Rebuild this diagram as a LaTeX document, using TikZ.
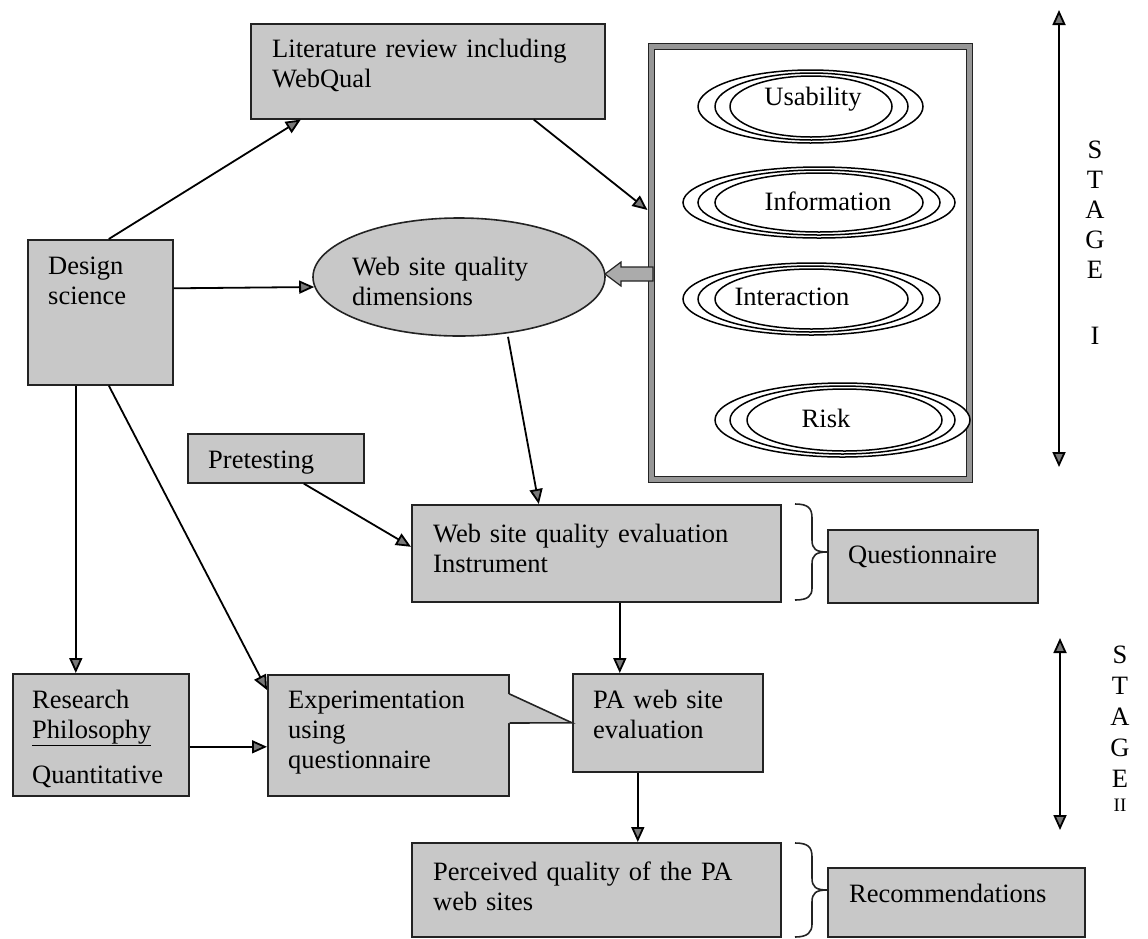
\documentclass[tikz,border=0pt]{standalone}
\usepackage{fontspec}
\setmainfont{Liberation Serif}
\usetikzlibrary{arrows.meta,calc,shapes.geometric}
\definecolor{boxfill}{RGB}{200,200,200}
\definecolor{tipfill}{RGB}{120,120,120}
\definecolor{edge}{RGB}{35,35,35}
\definecolor{bandfill}{RGB}{150,150,150}
\tikzset{
  box/.style={draw=edge, line width=1.6pt, fill=boxfill, inner sep=0pt, anchor=north west},
  lbl/.style={anchor=base west, inner sep=0pt, align=left, text width=380pt,
    font=\fontsize{26.5}{30}\selectfont},
  clabel/.style={anchor=base, inner sep=0pt, font=\fontsize{26.5}{30}\selectfont},
  stagelbl/.style={anchor=base, inner sep=0pt, align=center, text width=30pt,
    font=\fontsize{26.5}{31}\selectfont},
  link/.style={line width=1.8pt, draw=black, -{Triangle[length=15pt,width=13pt,fill=tipfill]}},
  twoway/.style={line width=1.8pt, draw=black,
    {Triangle[length=15pt,width=13pt,fill=tipfill]}-{Triangle[length=15pt,width=13pt,fill=tipfill]}},
  oval/.style={draw=black, line width=1.5pt, fill=white},
  bracket/.style={line width=1.6pt, draw=edge},
}
\begin{document}
\begin{tikzpicture}[x=1pt, y=-1pt]
\useasboundingbox (0,0) rectangle (1148,938);

% ---- boxes ----
\node[box, minimum width=354pt, minimum height=95pt] (lit) at (250,23) {};
\node[box, minimum width=145pt, minimum height=145pt] (design) at (27,239) {};
\node[box, minimum width=176pt, minimum height=49pt] (pre) at (187,433) {};
\node[box, minimum width=369pt, minimum height=97pt] (wsqe) at (411,504) {};
\node[box, minimum width=210pt, minimum height=73pt] (quest) at (827,529) {};
\node[box, minimum width=176pt, minimum height=122pt] (research) at (12,673) {};
\node[box, minimum width=241pt, minimum height=121pt] (exp) at (267,674) {};
\node[box, minimum width=190pt, minimum height=98pt] (pa) at (572,673) {};
\node[box, minimum width=369pt, minimum height=94pt] (perc) at (411,842) {};
\node[box, minimum width=257pt, minimum height=69pt] (recom) at (827,867) {};

% quality dimensions ellipse
\node[draw=edge, line width=1.6pt, fill=boxfill, ellipse, inner sep=0pt,
      minimum width=292pt, minimum height=118pt] (dims) at (459,277) {};

% framed panel with the four dimensions
\node[draw=edge, line width=1.1pt, double=bandfill, double distance=4.5pt, fill=white,
      inner sep=0pt, minimum width=318pt, minimum height=433pt] (dimbox) at (810.5,263) {};

% triple ovals
\draw[oval] (810.5,106.5) ellipse [x radius=112.5pt, y radius=36.5pt];
\draw[oval] (811.5,106.5) ellipse [x radius=96.5pt, y radius=33.5pt];
\draw[oval] (811,106.5) ellipse [x radius=81pt, y radius=30.5pt];

\draw[oval] (819,202.5) ellipse [x radius=136pt, y radius=35.5pt];
\draw[oval] (819,202.5) ellipse [x radius=121pt, y radius=32.5pt];
\draw[oval] (819,202.5) ellipse [x radius=104pt, y radius=29.5pt];

\draw[oval] (811.5,299) ellipse [x radius=128.5pt, y radius=36pt];
\draw[oval] (810.5,299) ellipse [x radius=112.5pt, y radius=33pt];
\draw[oval] (811.5,299) ellipse [x radius=96.5pt, y radius=30pt];

\draw[oval] (842.5,420) ellipse [x radius=127.5pt, y radius=37pt];
\draw[oval] (842.5,420) ellipse [x radius=112.5pt, y radius=34pt];
\draw[oval] (844.5,420) ellipse [x radius=97.5pt, y radius=31pt];

\node[clabel] (usab) at (813,105) {Usability};
\node[clabel] (info) at (828,210) {Information};
\node[clabel] (inter) at (792,305) {Interaction};
\node[clabel] (risk) at (826,427) {Risk};

% callout pointer of the experimentation box
\fill[boxfill] ($(exp.north east)+(-1.6,20)$) -- (pa.west) -- ($(exp.north east)+(-1.6,49)$) -- cycle;
\draw[line width=1.6pt, draw=edge, line join=miter]
  ($(exp.north east)+(0,20)$) -- (pa.west) -- ($(exp.north east)+(0,49)$);

% block arrow from the panel to the ellipse
\draw[draw=edge, line width=1.2pt, fill=bandfill!80!white, line join=miter]
  (605,274) -- (621,262) -- (621,267) -- (653,267) -- (653,281) -- (621,281) -- (621,286) -- cycle;

% ---- texts ----
\node[lbl] (lit-t) at (272,57) {Literature review including\\WebQual};
\node[lbl] (design-t) at (48,274) {Design\\science};
\node[lbl] (dims-t) at (352,275) {Web site quality\\dimensions};
\node[lbl] (pre-t) at (208,468) {Pretesting};
\node[lbl] (wsqe-t) at (433,542) {Web site quality evaluation\\Instrument};
\node[lbl] (quest-t) at (848,563) {Questionnaire};
\node[lbl] (research-t) at (32,708) {Research\\\underline{Philosophy}\\[15pt]Quantitative};
\node[lbl] (exp-t) at (288,708) {Experimentation\\using\\questionnaire};
\node[lbl] (pa-t) at (593,708) {PA web site\\evaluation};
\node[lbl] (perc-t) at (433,880) {Perceived quality of the PA\\web sites};
\node[lbl] (recom-t) at (849,902) {Recommendations};

% ---- connectors ----
\draw[link] ([xshift=8.5pt]design.north) -- ([xshift=-127pt]lit.south);
\draw[link] ([xshift=106pt]lit.south) -- ($(dimbox.west |- 0,210)+(-3.5,0)$);
\draw[link] ([yshift=24pt]design.east) -- ($(dims.west)+(2,10)$);
\draw[link] ([xshift=49pt]dims.south) -- ([xshift=-57.5pt]wsqe.north);
\draw[link] ([xshift=28pt]pre.south) -- ([yshift=6.5pt]wsqe.west);
\draw[link] ([xshift=23.5pt]wsqe.south) coordinate (wq) -- (wq |- pa.north);
\draw[link] ([xshift=-30pt]pa.south) coordinate (pq) -- (pq |- perc.north);
\draw[link] ([xshift=-24.5pt]design.south) coordinate (dv) -- (dv |- research.north);
\draw[link] ([xshift=8.5pt]design.south) -- ($(exp.north west)+(0,16)$);
\draw[link] ([yshift=-12pt]research.east) coordinate (re) -- (re -| exp.west);

% ---- braces ----
\draw[bracket] (795,504) .. controls (808,504) and (812,508) .. (812,518)
  -- (812,540) .. controls (812,549) and (816,552) .. (827,552)
  .. controls (816,552) and (812,555) .. (812,564)
  -- (812,588) .. controls (812,596) and (808,600) .. (795,600);
\draw[bracket] (795,843) .. controls (808,843) and (812,847) .. (812,857)
  -- (812,878) .. controls (812,887) and (816,890) .. (827,890)
  .. controls (816,890) and (812,893) .. (812,902)
  -- (812,924) .. controls (812,932) and (808,937) .. (795,937);

% ---- stage markers ----
\coordinate (s1top) at (1059,10);
\coordinate (s1bot) at (1059,467);
\draw[twoway] (s1bot) -- (s1top);
\node[stagelbl, font=\fontsize{26.5}{30}\selectfont] (stage1) at (1095,158) {S\\T\\A\\G\\E\\[36pt]I};

\coordinate (s2top) at (1060,638);
\coordinate (s2bot) at (1060,830);
\draw[twoway] (s2bot) -- (s2top);
\node[stagelbl] (stage2) at (1120,663) {S\\T\\A\\G\\E\\[-7pt]{\fontsize{19}{19}\selectfont II}};
\end{tikzpicture}
\end{document}
